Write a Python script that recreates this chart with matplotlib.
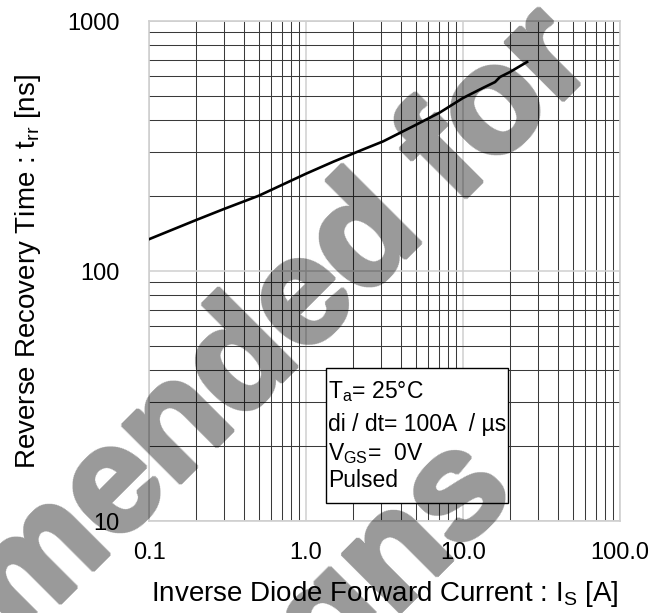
import matplotlib
matplotlib.use("Agg")
import numpy as np
import matplotlib.pyplot as plt
from matplotlib.patches import Rectangle
from matplotlib.ticker import FixedLocator, LogLocator, NullFormatter

plt.rcParams['font.family'] = ['Liberation Sans', 'DejaVu Sans']
plt.rcParams['mathtext.fontset'] = 'custom'
plt.rcParams['mathtext.rm'] = 'Liberation Sans'
plt.rcParams['mathtext.it'] = 'Liberation Sans'
plt.rcParams['mathtext.default'] = 'regular'

# Data
current_a = [0.1, 0.2, 0.3, 0.5, 1.0, 1.5, 2.3, 3.1, 5.0, 7.1, 10.0, 13.4, 16.0, 17.2, 19.9, 25.6]
trr_ns = [134, 160, 177, 200, 245, 274, 306, 330, 384, 430, 492, 540, 570, 597, 625, 686]

x_ticks = [0.1, 1.0, 10.0, 100.0]
x_tick_labels = ["0.1", "1.0", "10.0", "100.0"]
y_ticks = [10, 100, 1000]
y_tick_labels = ["10", "100", "1000"]

conditions = [r"T$_{a}$= 25°C", "di / dt= 100A  / µs", r"V$_{GS}$=  0V", "Pulsed"]
watermark_lines = ["Not recommended for", "new designs"]


def heavy_translucent(im, dpi, r=3, alpha=0.4):
    """Thicken the glyphs (dilate) and make them a translucent black overlay."""
    a = np.pad(im[..., 3], r)
    out = np.zeros_like(a)
    for dy in range(-r, r + 1):
        for dx in range(-r, r + 1):
            if dx * dx + dy * dy <= r * r + 1:
                out = np.maximum(out, np.roll(np.roll(a, dy, 0), dx, 1))
    res = np.zeros(out.shape + (4,))
    res[..., 3] = out * alpha
    return res, -r, -r


W, H = 666, 613
fig = plt.figure(figsize=(W / 100, H / 100), dpi=100)
ax = fig.add_axes([149 / W, 1 - 521 / H, 471 / W, 500 / H])

ax.set_xscale('log')
ax.set_yscale('log')
ax.set_xlim(0.1, 100)
ax.set_ylim(10, 1000)

ax.xaxis.set_major_locator(FixedLocator(x_ticks))
ax.yaxis.set_major_locator(FixedLocator(y_ticks))
ax.set_xticklabels(x_tick_labels)
ax.set_yticklabels(y_tick_labels)
ax.xaxis.set_minor_locator(LogLocator(base=10, subs=range(2, 10)))
ax.yaxis.set_minor_locator(LogLocator(base=10, subs=range(2, 10)))
ax.xaxis.set_minor_formatter(NullFormatter())
ax.yaxis.set_minor_formatter(NullFormatter())

ax.grid(which='minor', color='#3a3a3a', linewidth=0.75)
ax.grid(which='major', color='#cfcfcf', linewidth=1.1)
ax.tick_params(which='both', length=0)
ax.tick_params(axis='x', which='major', pad=15, labelsize=17)
ax.tick_params(axis='y', which='major', pad=21, labelsize=17)
for s in ax.spines.values():
    s.set_color('#cfcfcf')
    s.set_linewidth(1.2)

ax.plot(current_a, trr_ns, color='black', linewidth=1.9, zorder=3)

ax.set_xlabel(r"Inverse Diode Forward Current : I$_{S}$ [A]", fontsize=20)
ax.set_ylabel(r"Reverse Recovery Time : t$_{rr}$ [ns]", fontsize=20)
ax.xaxis.set_label_coords(0.501, -0.116)
ax.yaxis.set_label_coords(-0.226, 0.498)

# Conditions box
ax.add_patch(Rectangle((0.376, 0.036), 0.386, 0.270, transform=ax.transAxes,
                       facecolor='white', edgecolor='black', linewidth=1.0, zorder=4))
baselines = [0.246, 0.180, 0.122, 0.068]
for txt, yb in zip(conditions, baselines):
    ax.text(0.380, yb, txt, transform=ax.transAxes, fontsize=16.5,
            ha='left', va='baseline', zorder=5)

# Watermark overlay
anchors = [(598, 64), (518, 494)]
for txt, (px, py) in zip(watermark_lines, anchors):
    t = fig.text(px / W, 1 - py / H, txt, fontsize=108, fontweight='bold',
                 color='black', rotation=45, rotation_mode='anchor',
                 ha='right', va='baseline', zorder=10)
    t.set_agg_filter(heavy_translucent)

fig.savefig('out.png', dpi=100)
